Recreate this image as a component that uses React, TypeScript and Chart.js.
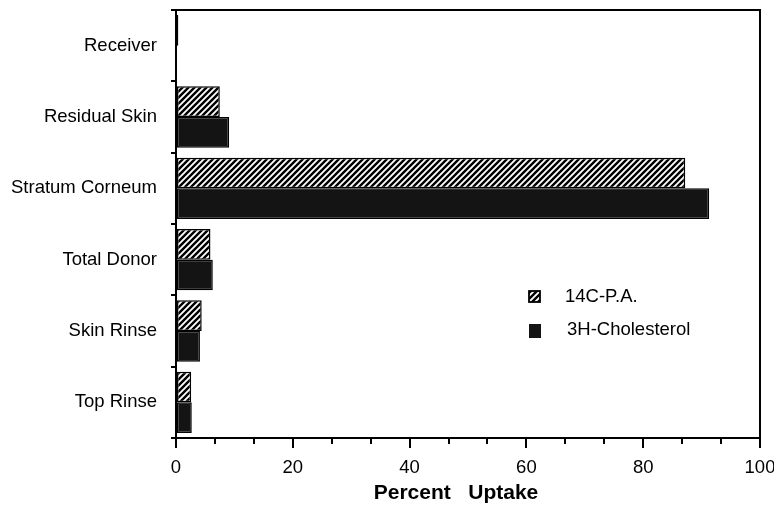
import React, { useEffect, useRef } from "react";
import { Chart, registerables } from "chart.js";

Chart.register(...registerables);

const categories = ["Receiver", "Residual Skin", "Stratum Corneum", "Total Donor", "Skin Rinse", "Top Rinse"];
const paValues = [0.4, 7.5, 87.2, 5.9, 4.4, 2.6];
const cholValues = [0.1, 9.1, 91.3, 6.3, 4.1, 2.7];
const seriesNames = ["14C-P.A.", "3H-Cholesterol"];
const axisTitle = "Percent   Uptake";
const xMin = 0;
const xMax = 100;
const majorStep = 20;
const minorStep = 20 / 3;

const FONT = "'Liberation Sans', Arial, Helvetica, sans-serif";

function makeHatch(): CanvasPattern | string {
  const s = 6;
  const c = document.createElement("canvas");
  c.width = s;
  c.height = s;
  const g = c.getContext("2d");
  if (!g) return "#fff";
  g.fillStyle = "#fff";
  g.fillRect(0, 0, s, s);
  g.strokeStyle = "#000";
  g.lineWidth = 2.4;
  g.lineCap = "square";
  g.beginPath();
  g.moveTo(0, s);
  g.lineTo(s, 0);
  g.moveTo(-1, 1);
  g.lineTo(1, -1);
  g.moveTo(s - 1, s + 1);
  g.lineTo(s + 1, s - 1);
  g.stroke();
  const p = g.createPattern(c, "repeat");
  return p || "#fff";
}

export default function App() {
  const ref = useRef<HTMLCanvasElement | null>(null);

  useEffect(() => {
    const canvas = ref.current;
    if (!canvas) return;
    const hatch = makeHatch();
    const dark = "#141414";

    const decor = {
      id: "decor",
      afterDraw(chart: any) {
        const { ctx, chartArea } = chart;
        ctx.save();
        ctx.strokeStyle = "#000";
        ctx.lineWidth = 2;
        ctx.strokeRect(chartArea.left, chartArea.top, chartArea.right - chartArea.left, chartArea.bottom - chartArea.top);

        // legend
        const lx = chartArea.left + 353;
        const ly = chartArea.top + 281;
        ctx.fillStyle = hatch as any;
        ctx.fillRect(lx, ly, 11, 11);
        ctx.lineWidth = 1.8;
        ctx.strokeRect(lx, ly, 11, 11);
        ctx.fillStyle = dark;
        ctx.fillRect(lx, ly + 33, 12, 14);
        ctx.fillStyle = "#000";
        ctx.font = `18.5px ${FONT}`;
        ctx.textBaseline = "middle";
        ctx.textAlign = "left";
        ctx.fillText(seriesNames[0], lx + 36, ly + 6);
        ctx.fillText(seriesNames[1], lx + 38, ly + 39);

        // axis title
        ctx.font = `bold 21px ${FONT}`;
        ctx.textAlign = "center";
        ctx.fillText(axisTitle, 456, chartArea.bottom + 55);
        ctx.restore();
      },
    };

    const zeroPad = (s: any) => {
      s.paddingLeft = 0;
      s.paddingRight = 0;
      s.paddingTop = 0;
      s.paddingBottom = 0;
    };

    const chart = new Chart(canvas, {
      type: "bar",
      data: {
        labels: categories,
        datasets: [
          {
            label: seriesNames[0],
            data: paValues,
            backgroundColor: hatch as any,
            borderColor: "#000",
            borderWidth: 1.5,
            borderSkipped: false,
            categoryPercentage: 0.86,
            barPercentage: 1,
          },
          {
            label: seriesNames[1],
            data: cholValues,
            backgroundColor: dark,
            borderColor: "#000",
            borderWidth: 1.5,
            borderSkipped: false,
            categoryPercentage: 0.86,
            barPercentage: 1,
          },
        ],
      },
      options: {
        indexAxis: "y",
        responsive: false,
        animation: false,
        layout: { padding: { top: 10, right: 14, bottom: 0, left: 0 } },
        plugins: {
          legend: { display: false },
          tooltip: { enabled: false },
          title: { display: false },
        },
        scales: {
          x: {
            type: "linear",
            position: "bottom",
            weight: 1,
            min: xMin,
            max: xMax,
            afterFit: (s: any) => {
              s.height = 70;
              zeroPad(s);
            },
            ticks: {
              stepSize: majorStep,
              autoSkip: false,
              maxRotation: 0,
              color: "#000",
              padding: 9,
              font: { family: FONT, size: 18.5 },
            },
            grid: {
              display: true,
              drawOnChartArea: false,
              drawTicks: true,
              tickLength: 10,
              color: "#000",
              lineWidth: 2,
            },
            border: { display: true, color: "#000", width: 2 },
          },
          xMinor: {
            type: "linear",
            axis: "x",
            position: "bottom",
            weight: 0,
            min: xMin,
            max: xMax,
            afterFit: (s: any) => {
              s.height = 0;
              zeroPad(s);
            },
            ticks: {
              stepSize: minorStep,
              autoSkip: false,
              maxRotation: 0,
              display: false,
            },
            grid: {
              display: true,
              drawOnChartArea: false,
              drawTicks: true,
              tickLength: 6,
              color: "#000",
              lineWidth: 2,
            },
            border: { display: false },
          },
          y: {
            type: "category",
            afterFit: (s: any) => {
              s.width = 176;
              zeroPad(s);
            },
            ticks: {
              color: "#000",
              padding: 14,
              autoSkip: false,
              font: { family: FONT, size: 18.5 },
            },
            grid: {
              display: true,
              offset: true,
              drawOnChartArea: false,
              drawTicks: true,
              tickLength: 5,
              color: "#000",
              lineWidth: 2,
            },
            border: { display: true, color: "#000", width: 2 },
          },
        },
      } as any,
      plugins: [decor],
    });

    return () => chart.destroy();
  }, []);

  return (
    <div style={{ position: "fixed", left: 0, top: 0, width: 774, height: 508, background: "#fff" }}>
      <canvas ref={ref} width={774} height={508} style={{ display: "block", width: 774, height: 508 }} />
    </div>
  );
}
